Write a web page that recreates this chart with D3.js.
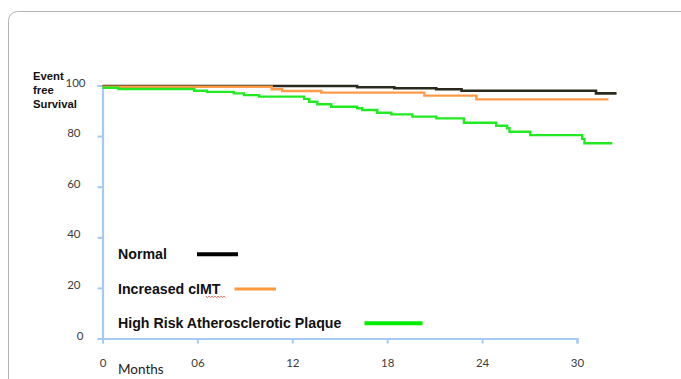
<!DOCTYPE html>
<html><head><meta charset="utf-8">
<script src="https://cdn.jsdelivr.net/npm/d3@7"></script>
<style>html,body{margin:0;padding:0;background:#fff;}svg{display:block;}</style>
</head><body>
<svg id="chart" width="681" height="379"></svg>
<script>
// ---- data ----
const xTicks = [0, 6, 12, 18, 24, 30];
const xTickLabels = ["0", "06", "12", "18", "24", "30"];
const yTicks = [0, 20, 40, 60, 80, 100];

const normalMonths = [0, 16.1, 18.45, 21.1, 22.7, 31.2, 32.5];
const normalSurv   = [99.8, 99.3, 98.9, 98.5, 97.9, 96.9, 96.9];

const cimtMonths = [0, 10.7, 11.36, 13.83, 20.35, 23.64, 31.99];
const cimtSurv   = [99.5, 98.5, 97.8, 97.2, 96.0, 94.5, 94.5];

const plaqueMonths = [0, 1.0, 5.8, 6.6, 8.3, 8.95, 9.9, 12.75, 13.07, 13.58, 14.46, 16.1, 16.42, 17.37, 18.26, 19.59, 21.11, 22.85, 24.89, 25.58, 25.73, 27.04, 30.33, 30.47, 32.23];
const plaqueSurv   = [99.1, 98.6, 97.9, 97.5, 96.9, 96.2, 95.6, 94.7, 93.6, 92.6, 91.6, 91.0, 90.3, 89.2, 88.6, 87.7, 87.0, 85.3, 84.1, 83.1, 81.7, 80.4, 78.9, 77.2, 77.2];

const legendLabels = ["Normal", "Increased cIMT", "High Risk Atherosclerotic Plaque"];
const seriesColors = ["#2a2a1c", "#ff9a48", "#22ea22"];
const legendColors = ["#000000", "#ff9a3c", "#00ee00"];
const yLabelLines = ["Event", "free", "Survival"];
const xTitle = "Months";

// ---- drawing ----
const svg = d3.select("#chart");

svg.append("rect").attr("x", 8.5).attr("y", 11.5).attr("width", 720).attr("height", 420)
  .attr("rx", 9).attr("fill", "#fff").attr("stroke", "#b3b3b3").attr("stroke-width", 1);

const x = d3.scaleLinear().domain([0, 30]).range([102.5, 577]);
const y = d3.scaleLinear().domain([0, 100]).range([338.5, 85.5]);
const axisColor = "#a3cbf5";

// x axis
const gx = svg.append("g").attr("transform", `translate(0,${y(0)})`)
  .call(d3.axisBottom(x).tickValues(xTicks).tickSize(5).tickSizeOuter(5)
    .tickFormat((d, i) => xTickLabels[i]));
gx.select(".domain").attr("stroke", axisColor).attr("stroke-width", 2.2);
gx.selectAll(".tick line").attr("stroke", axisColor).attr("stroke-width", 2);
gx.selectAll(".tick text").attr("y", 28).attr("dy", 0).attr("fill", "#3c3c3c")
  .attr("font-family", "Lato, 'Open Sans', sans-serif").attr("font-size", 11.5);

// y axis
const gy = svg.append("g").attr("transform", `translate(${x(0)},0)`)
  .call(d3.axisLeft(y).tickValues(yTicks).tickSize(5).tickSizeOuter(5).tickFormat(d3.format("d")));
gy.select(".domain").attr("stroke", axisColor).attr("stroke-width", 2.2);
gy.selectAll(".tick line").attr("stroke", axisColor).attr("stroke-width", 2);
gy.selectAll(".tick text")
  .attr("x", d => d === 100 ? -17 : d === 0 ? -19 : -22)
  .attr("dy", "0.05em").attr("fill", "#3c3c3c")
  .attr("font-family", "Lato, 'Open Sans', sans-serif").attr("font-size", 11.5);

// y label
svg.append("text").attr("x", 33).attr("y", 80)
  .attr("font-family", "'Liberation Sans', Arial, sans-serif").attr("font-weight", "bold")
  .attr("font-size", 11.3).attr("fill", "#111")
  .selectAll("tspan").data(yLabelLines).join("tspan")
  .attr("x", 33).attr("dy", (d, i) => i === 0 ? 0 : 13.8).text(d => d);

// x title
svg.append("text").attr("x", 118).attr("y", 374).text(xTitle)
  .attr("font-family", "Lato, 'Open Sans', sans-serif").attr("font-size", 13.5).attr("fill", "#222");

// curves
const series = [
  {m: normalMonths, v: normalSurv},
  {m: cimtMonths, v: cimtSurv},
  {m: plaqueMonths, v: plaqueSurv}
];
const line = d3.line().x(d => x(d[0])).y(d => y(d[1])).curve(d3.curveStepAfter);
series.forEach((s, i) => {
  svg.append("path").datum(s.m.map((mm, j) => [mm, s.v[j]]))
    .attr("d", line).attr("fill", "none").attr("stroke", seriesColors[i])
    .attr("stroke-width", i === 0 ? 2.6 : 2.4);
});

// legend
const legY = [258.5, 293.5, 327.8];
const legLine = [[197, 238, 254.3], [234.5, 276, 289], [364.5, 422.5, 323.3]];
legendLabels.forEach((t, i) => {
  svg.append("text").attr("x", 118).attr("y", legY[i]).text(t)
    .attr("font-family", "'Liberation Sans', Arial, sans-serif").attr("font-weight", "bold")
    .attr("font-size", 14.2).attr("fill", "#111");
  svg.append("line").attr("x1", legLine[i][0]).attr("x2", legLine[i][1])
    .attr("y1", legLine[i][2]).attr("y2", legLine[i][2])
    .attr("stroke", legendColors[i]).attr("stroke-width", i === 1 ? 3 : 4);
});
// spell-check squiggle under "cIMT"
const sq = [];
for (let k = 0; k <= 13; k++) sq.push([206 + k * 1.5, 296.5 + (k % 2 ? 1 : -0.3)]);
svg.append("path").attr("d", d3.line()(sq)).attr("fill", "none")
  .attr("stroke", "#e0483c").attr("stroke-width", 0.8);
</script>
</body></html>
